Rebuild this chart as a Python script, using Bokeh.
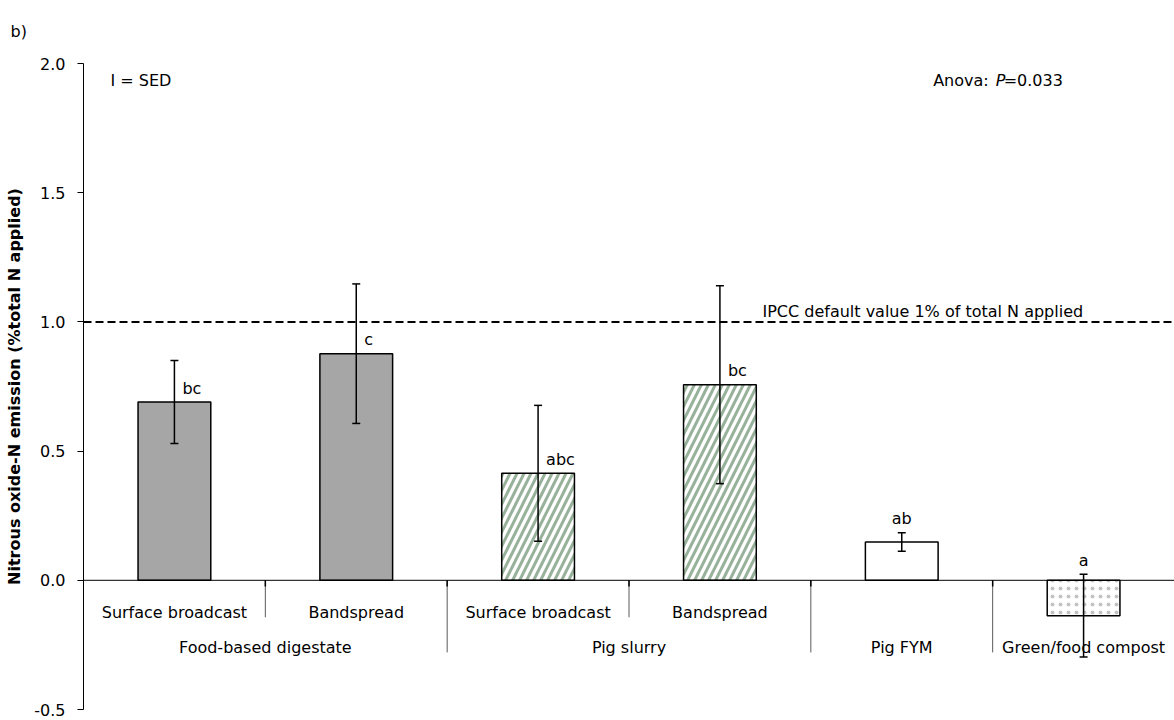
from bokeh.plotting import figure
from bokeh.models import (ColumnDataSource, Whisker, TeeHead, Span,
                          NumeralTickFormatter, Range1d)
from bokeh.core.properties import value
from bokeh.embed import file_html
from bokeh.resources import INLINE

# ---- data -------------------------------------------------------------
bar_group = ["Food-based digestate", "Food-based digestate", "Pig slurry",
             "Pig slurry", "Pig FYM", "Green/food compost"]
method = ["Surface broadcast", "Bandspread", "Surface broadcast",
          "Bandspread", "", ""]
emission = [0.69, 0.877, 0.414, 0.757, 0.148, -0.137]   # % of total N applied
sed = [0.161, 0.27, 0.263, 0.383, 0.036, 0.16]
letters = ["bc", "c", "abc", "bc", "ab", "a"]
y_ticks = [-0.5, 0.0, 0.5, 1.0, 1.5, 2.0]
ipcc_default = 1.0
anova_p = 0.033

FONT = "DejaVu Sans"
FS = "16px"

n = len(emission)
x_pos = [i + 0.5 for i in range(n)]

p = figure(width=1174, height=720, output_backend="svg", toolbar_location=None,
           x_range=Range1d(0, n), y_range=Range1d(-0.5, 2.0),
           x_axis_location=None, min_border_left=83, min_border_right=0,
           min_border_top=63, min_border_bottom=11)
p.outline_line_color = None
p.grid.visible = False
p.background_fill_color = "white"
p.border_fill_color = "white"

# panel letter in the top-left corner
p.title.text = "b)"
p.title.align = "left"
p.title.vertical_align = "top"
p.title.offset = -73
p.title.standoff = 42
p.title.text_font = FONT
p.title.text_font_size = FS
p.title.text_font_style = "normal"
p.title.text_color = "black"

# ---- y axis -----------------------------------------------------------
ax = p.yaxis[0]
ax.ticker = y_ticks
ax.formatter = NumeralTickFormatter(format="0.0")
ax.axis_line_color = "black"
ax.major_tick_line_color = "black"
ax.major_tick_out = 6
ax.major_tick_in = 0
ax.minor_tick_line_color = None
ax.major_label_text_font = FONT
ax.major_label_text_font_size = FS
ax.major_label_text_color = "black"
ax.major_label_standoff = 12
ax.axis_label = "Nitrous oxide-N emission (%total N applied)"
ax.axis_label_text_font = FONT
ax.axis_label_text_font_size = FS
ax.axis_label_text_font_style = "bold"
ax.axis_label_text_color = "black"
ax.axis_label_standoff = 7

# ---- bars -------------------------------------------------------------
grey = dict(fill_color="#a6a6a6")
stripes = dict(fill_color="white", hatch_pattern="/", hatch_color="#97b19b",
               hatch_scale=14, hatch_weight=3)
plain = dict(fill_color="white")
dots = dict(fill_color="white", hatch_pattern=".", hatch_color="#c4c4c4",
            hatch_scale=8, hatch_weight=0.7)
bar_style = [grey, grey, stripes, stripes, plain, dots]

for i in range(n):
    src = ColumnDataSource(dict(x=[x_pos[i]], top=[emission[i]]))
    p.vbar(x="x", top="top", bottom=0, width=0.4, source=src,
           line_color="black", line_width=1.5, **bar_style[i])

# zero line
p.add_layout(Span(location=0, dimension="width", line_color="black", line_width=1))

# error bars (SED)
err_src = ColumnDataSource(dict(
    x=x_pos,
    lower=[v - e for v, e in zip(emission, sed)],
    upper=[v + e for v, e in zip(emission, sed)],
))
wh = Whisker(base="x", lower="lower", upper="upper", source=err_src,
             dimension="height", line_color="black", line_width=1.5,
             upper_head=TeeHead(size=8, line_color="black", line_width=1.5),
             lower_head=TeeHead(size=8, line_color="black", line_width=1.5))
wh.level = "overlay"
p.add_layout(wh)

# significance letters: beside the error bar when it rises well above the bar,
# otherwise centred above the error bar
lx, ly, lalign, loff = [], [], [], []
for i in range(n):
    top = max(emission[i], 0)
    if emission[i] + sed[i] > top + 0.1:
        lx.append(x_pos[i]); ly.append(top); lalign.append("left"); loff.append(8)
    else:
        lx.append(x_pos[i]); ly.append(emission[i] + sed[i]); lalign.append("center"); loff.append(0)
let_src = ColumnDataSource(dict(x=lx, y=ly, t=letters, a=lalign, o=loff))
p.text(x="x", y="y", text="t", source=let_src, text_align="a", x_offset="o",
       y_offset=-14, text_baseline="alphabetic", text_font=value(FONT),
       text_font_size=FS, text_color="black")

# ---- category axis drawn along the zero line ---------------------------
SUB_SEP = -0.143
GROUP_SEP = -0.279
TICK = -0.024
sx0, sy0, sx1, sy1 = [], [], [], []
tx, ty0, ty1 = [], [], []
for b in range(1, n):
    depth = SUB_SEP if bar_group[b] == bar_group[b - 1] else GROUP_SEP
    sx0.append(b); sy0.append(0); sx1.append(b); sy1.append(depth)
    tx.append(b); ty0.append(0); ty1.append(TICK)
p.segment(x0=sx0, y0=sy0, x1=sx1, y1=sy1, line_color="#5a5a5a", line_width=1)
p.segment(x0=tx, y0=ty0, x1=tx, y1=ty1, line_color="black", line_width=1.5)

p.text(x=[x_pos[i] for i in range(n) if method[i]],
       y=[0] * sum(1 for m in method if m),
       text=[m for m in method if m], y_offset=32, text_align="center",
       text_baseline="alphabetic", text_font=value(FONT), text_font_size=FS,
       text_color="black")

g_names, g_x = [], []
for g in dict.fromkeys(bar_group):
    idx = [i for i in range(n) if bar_group[i] == g]
    g_names.append(g)
    g_x.append(sum(x_pos[i] for i in idx) / len(idx))
p.text(x=g_x, y=[0] * len(g_x), text=g_names, y_offset=67, text_align="center",
       text_baseline="alphabetic", text_font=value(FONT), text_font_size=FS,
       text_color="black")

# ---- reference line and annotations ------------------------------------
p.add_layout(Span(location=ipcc_default, dimension="width", line_color="black",
                  line_width=2, line_dash="8 4"))
p.text(x=[3.734], y=[ipcc_default], text=["IPCC default value 1% of total N applied"],
       y_offset=-10, text_align="left", text_baseline="alphabetic",
       text_font=value(FONT), text_font_size=FS, text_color="black")

p.text(x=[0.1485], y=[2.0], text=["I = SED"], y_offset=17, text_align="left",
       text_baseline="alphabetic", text_font=value(FONT), text_font_size=FS,
       text_color="black")
p.text(x=[5.0], y=[2.0], text=["Anova:"], x_offset=-4, y_offset=17,
       text_align="right", text_baseline="alphabetic", text_font=value(FONT),
       text_font_size=FS, text_color="black")
p.text(x=[5.0], y=[2.0], text=["P"], x_offset=3, y_offset=17, text_align="left",
       text_baseline="alphabetic", text_font=value(FONT), text_font_size=FS,
       text_font_style="italic", text_color="black")
p.text(x=[5.0], y=[2.0], text=[f"={anova_p}"], x_offset=11, y_offset=17,
       text_align="left", text_baseline="alphabetic", text_font=value(FONT),
       text_font_size=FS, text_color="black")

open("out.html", "w").write(file_html(p, INLINE))
